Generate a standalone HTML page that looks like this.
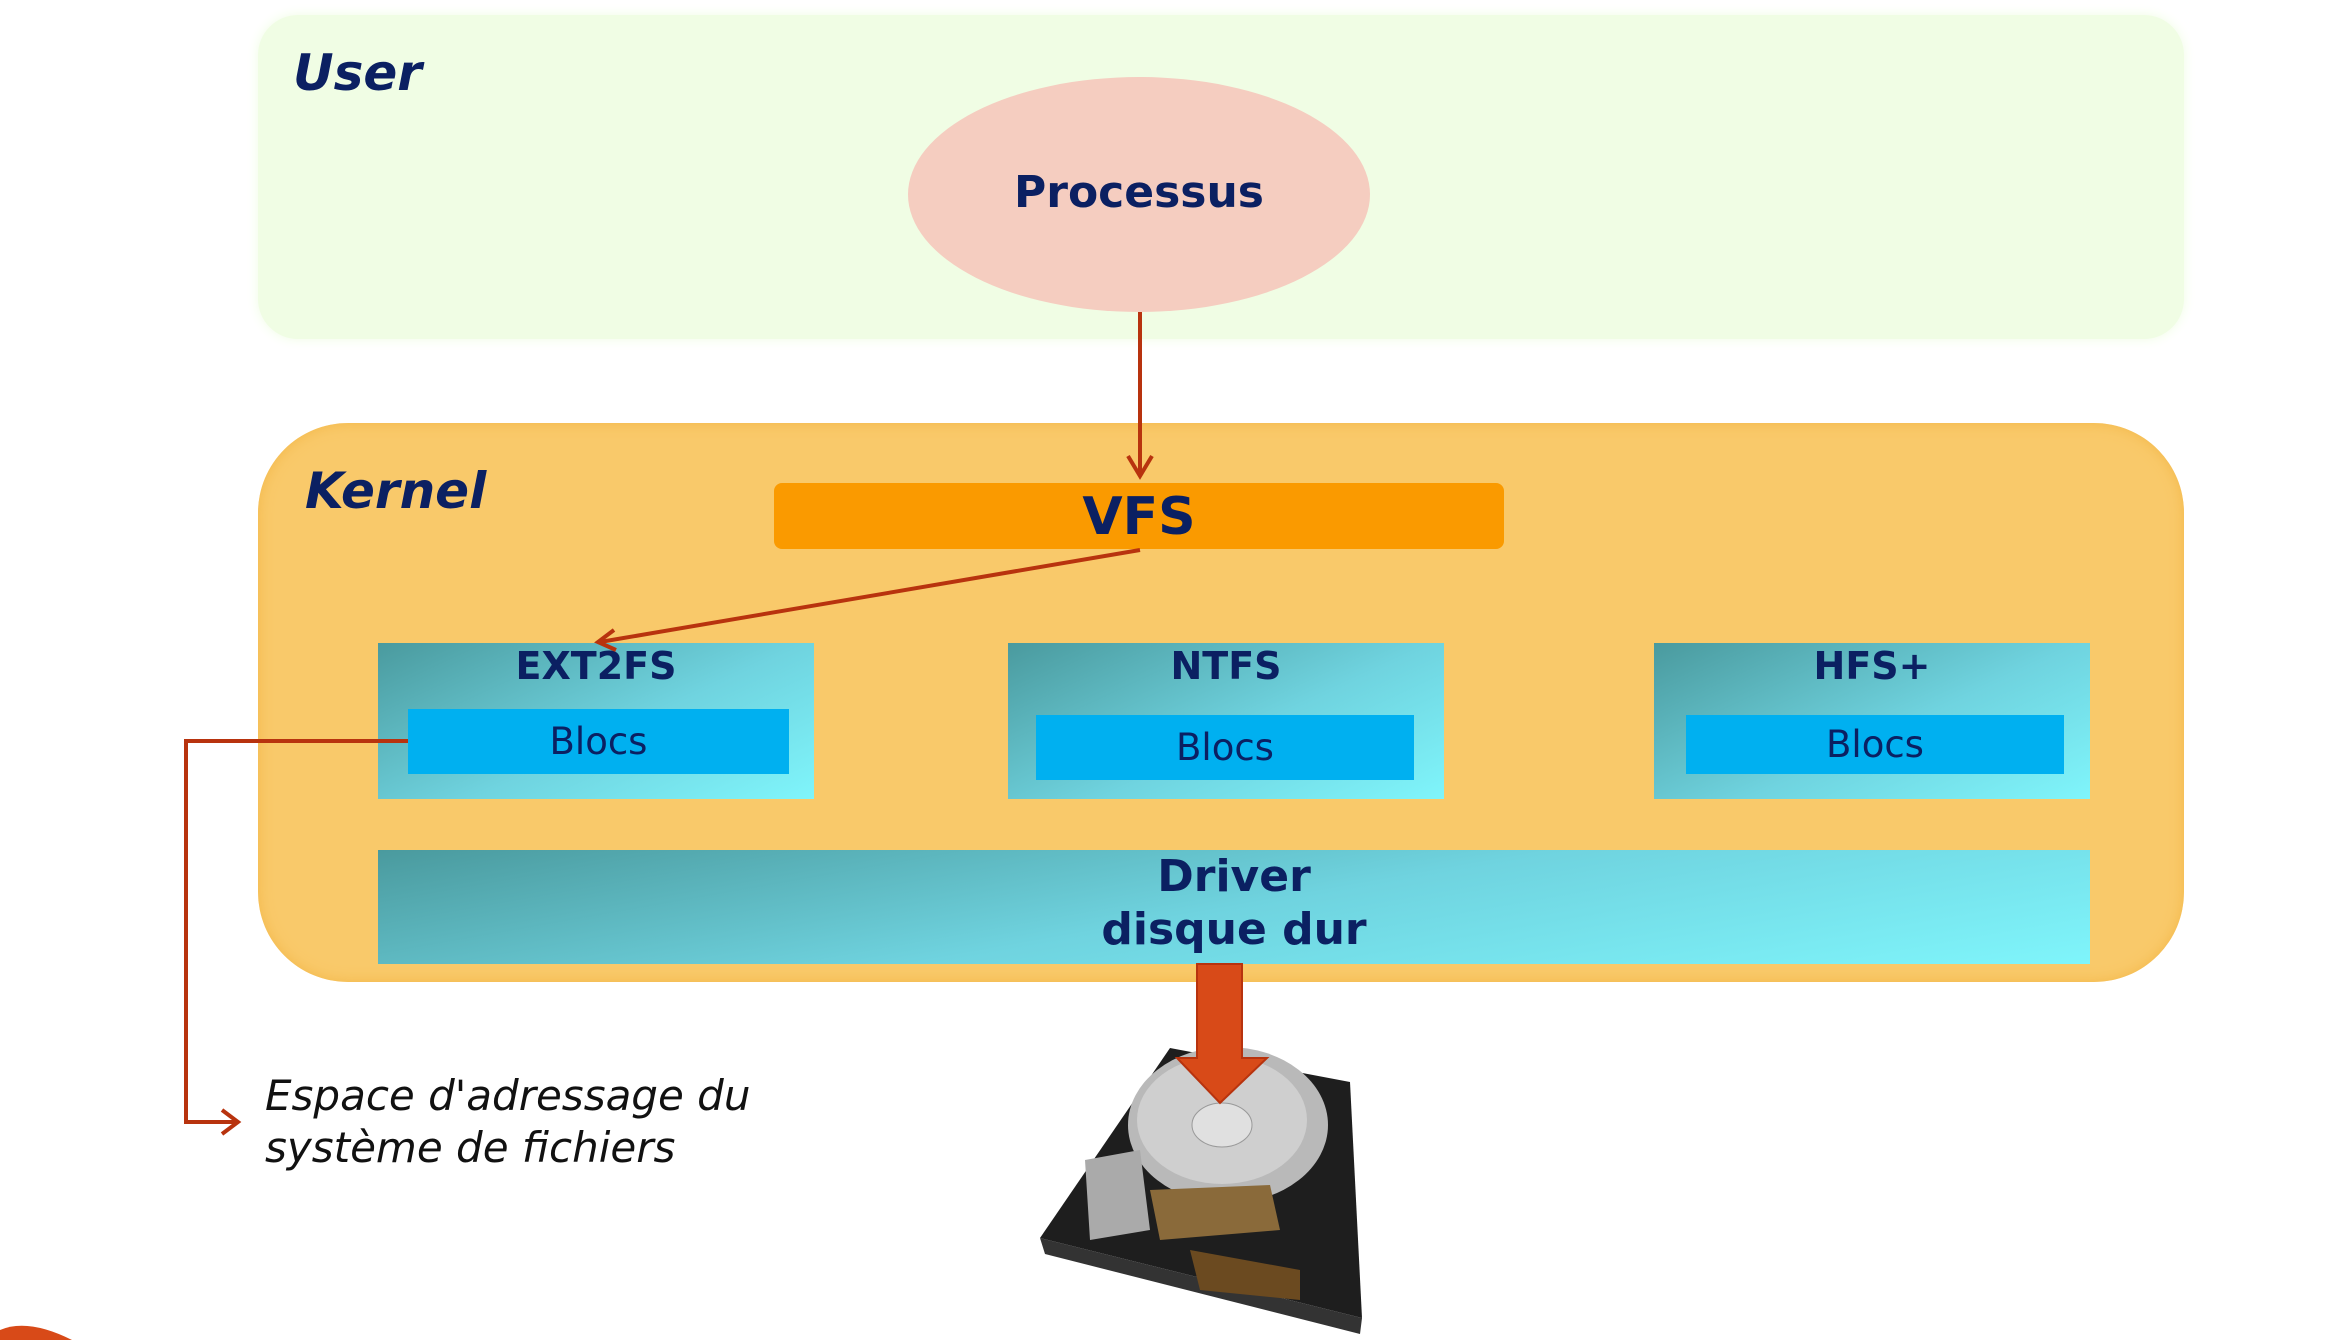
<!DOCTYPE html>
<html><head><meta charset="utf-8"><style>
html,body{margin:0;padding:0;background:#fff;width:2338px;height:1340px;overflow:hidden;}
body{position:relative;font-family:"DejaVu Sans","Liberation Sans",sans-serif;}
.a{position:absolute;}
.t{color:#0b2062;font-weight:bold;}
.fs{background:linear-gradient(155deg,#4a9a9e 0%,#6fd3df 55%,#7ff5fb 100%);}
.bl{background:#00b0f0;color:#0b2062;font-size:37px;text-align:center;}
</style></head><body>
<div class="a" style="left:258px;top:15px;width:1926px;height:324px;background:#f0fde4;border-radius:40px;box-shadow:0 0 12px #f0fde4;"></div>
<div class="a t" style="left:293px;top:44px;font-size:50px;font-style:italic;">User</div>
<div class="a" style="left:908px;top:77px;width:462px;height:235px;border-radius:50%;background:#f5cdc0;"></div>
<div class="a t" style="left:908px;top:167px;width:462px;text-align:center;font-size:44px;">Processus</div>

<div class="a" style="left:258px;top:423px;width:1926px;height:559px;background:#f9c96a;border-radius:90px;box-shadow:inset 0 0 14px #f3b84a;"></div>
<div class="a t" style="left:305px;top:462px;font-size:50px;font-style:italic;">Kernel</div>
<div class="a" style="left:774px;top:483px;width:730px;height:66px;background:#fa9a00;border-radius:8px;"></div>
<div class="a t" style="left:774px;top:484px;width:730px;text-align:center;font-size:52px;line-height:66px;">VFS</div>

<div class="a fs" style="left:378px;top:643px;width:436px;height:156px;"></div>
<div class="a t" style="left:378px;top:644px;width:436px;text-align:center;font-size:38px;">EXT2FS</div>
<div class="a bl" style="left:408px;top:709px;width:381px;height:65px;line-height:65px;">Blocs</div>

<div class="a fs" style="left:1008px;top:643px;width:436px;height:156px;"></div>
<div class="a t" style="left:1008px;top:644px;width:436px;text-align:center;font-size:38px;">NTFS</div>
<div class="a bl" style="left:1036px;top:715px;width:378px;height:65px;line-height:65px;">Blocs</div>

<div class="a fs" style="left:1654px;top:643px;width:436px;height:156px;"></div>
<div class="a t" style="left:1654px;top:644px;width:436px;text-align:center;font-size:38px;">HFS+</div>
<div class="a bl" style="left:1686px;top:715px;width:378px;height:59px;line-height:59px;">Blocs</div>

<div class="a fs" style="left:378px;top:850px;width:1712px;height:114px;background:linear-gradient(170deg,#4a9a9e 0%,#6fd3df 50%,#7ff5fb 100%);"></div>
<div class="a t" style="left:378px;top:850px;width:1712px;text-align:center;font-size:44px;line-height:53px;">Driver<br>disque dur</div>

<div class="a" style="left:265px;top:1070px;font-size:42px;font-style:italic;color:#111;line-height:52px;">Espace d'adressage du<br>système de fichiers</div>

<svg class="a" style="left:0;top:0;overflow:hidden" width="2338" height="1340">
<g stroke="#b8330e" stroke-width="4" fill="none">
<line x1="1140" y1="312" x2="1140" y2="476"/>
<polyline points="1128,456 1140,476 1152,456"/>
<line x1="1140" y1="550" x2="600" y2="642"/>
<polyline points="614,630 598,642 616,650"/>
<polyline points="408,741 186,741 186,1122 238,1122"/>
<polyline points="222,1110 238,1122 222,1134"/>
</g>
<polygon points="1170,1048 1350,1082 1362,1318 1040,1238" fill="#1e1e1e"/>
<polygon points="1040,1238 1362,1318 1360,1334 1045,1254" fill="#333"/>
<ellipse cx="1228" cy="1125" rx="100" ry="78" fill="#b9b9b9"/>
<ellipse cx="1222" cy="1120" rx="85" ry="64" fill="#cfcfcf"/>
<ellipse cx="1222" cy="1125" rx="30" ry="22" fill="#e0e0e0" stroke="#999"/>
<polygon points="1085,1160 1140,1150 1150,1230 1090,1240" fill="#aaa"/>
<polygon points="1150,1190 1270,1185 1280,1230 1160,1240" fill="#8a6a3a"/>
<polygon points="1190,1250 1300,1270 1300,1300 1200,1290" fill="#6b4a20"/>
<polygon points="1197,964 1242,964 1242,1058 1267,1058 1220,1103 1177,1058 1197,1058" fill="#d84a18" stroke="#b8330e" stroke-width="2"/>
<path d="M0,1340 L0,1330 Q28,1318 72,1340 Z" fill="#d84a18"/>
</svg>
</body></html>
